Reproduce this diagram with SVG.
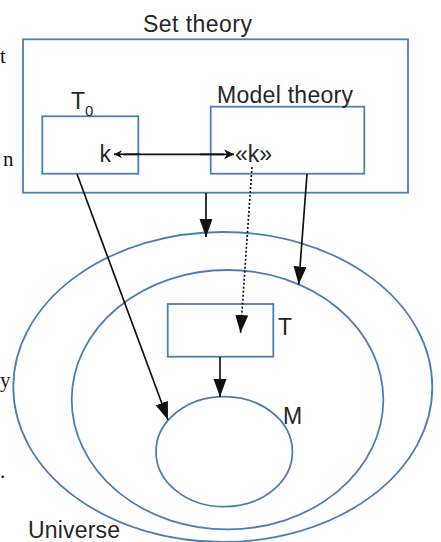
<svg xmlns="http://www.w3.org/2000/svg" width="441" height="542" viewBox="0 0 441 542">
<style>
.box{fill:none;stroke:#4a7ebb;stroke-width:1.8}
.lbl{font-family:"Liberation Sans",Arial,sans-serif;font-size:23px;fill:#262626}
.frag{font-family:"Liberation Serif","Times New Roman",serif;font-size:21px;fill:#111}
.arr{fill:none;stroke:#111;stroke-width:1.7}
</style>
<defs>
<marker id="tri" markerUnits="userSpaceOnUse" markerWidth="20" markerHeight="14" refX="18" refY="6.5" orient="auto">
<path d="M0,0 L18,6.5 L0,13 z" fill="#111"/>
</marker>
<marker id="barbL" markerUnits="userSpaceOnUse" markerWidth="10" markerHeight="9" refX="8" refY="4" orient="auto">
<path d="M0,0 L8,4 L0,8 L2.5,4 z" fill="#111"/>
</marker>
<marker id="barbR" markerUnits="userSpaceOnUse" markerWidth="12" markerHeight="11" refX="10" refY="5" orient="auto">
<path d="M0,0 L10,5 L0,10 L3,5 z" fill="#111"/>
</marker>
</defs>
<rect width="441" height="542" fill="#fff"/>

<g id="fragments">
<text class="frag" x="0" y="63">t</text>
<text class="frag" x="3" y="166">n</text>
<text class="frag" x="0" y="387">y</text>
<text class="frag" x="0" y="478">.</text>
</g>

<g id="universe">
<ellipse class="box" cx="222.8" cy="387" rx="209.5" ry="155"/>
<text class="lbl" x="28" y="538" textLength="92">Universe</text>
</g>
<g id="middle">
<ellipse class="box" cx="227.5" cy="399.7" rx="155.8" ry="129.7"/>
</g>
<g id="M">
<ellipse class="box" cx="224.2" cy="451.7" rx="68.2" ry="55"/>
<text class="lbl" x="283" y="423.5">M</text>
</g>
<g id="T">
<rect class="box" x="167.7" y="304" width="105.6" height="52.7"/>
<text class="lbl" x="278" y="335">T</text>
</g>
<g id="settheory">
<rect class="box" x="23" y="39.3" width="385" height="153.4"/>
<text class="lbl" x="143" y="32.3" textLength="109">Set theory</text>
</g>
<g id="T0">
<rect class="box" x="42.3" y="116.3" width="96" height="57.4"/>
<text class="lbl" x="71" y="109.3">T<tspan font-size="15" dy="7">0</tspan></text>
<text class="lbl" x="99.5" y="162">k</text>
</g>
<g id="modeltheory">
<rect class="box" x="210.7" y="106.7" width="153.6" height="67"/>
<text class="lbl" x="217" y="102.7" textLength="136">Model theory</text>
<text class="lbl" x="235" y="162" textLength="37">«k»</text>
</g>

<g id="connectors">
<line class="arr" x1="124" y1="154.3" x2="224" y2="154.3"/>
<line class="arr" x1="200" y1="154.3" x2="234" y2="154.3" marker-end="url(#barbR)"/>
<line class="arr" x1="140" y1="154.3" x2="114" y2="154.3" marker-end="url(#barbL)"/>
<path class="arr" d="M252,167 L240.5,333" stroke-dasharray="2,2" marker-end="url(#tri)"/>
<line class="arr" x1="206" y1="193" x2="206" y2="237" marker-end="url(#tri)"/>
<line class="arr" x1="307" y1="174" x2="298.7" y2="284.5" marker-end="url(#tri)"/>
<line class="arr" x1="77" y1="174" x2="168" y2="420" marker-end="url(#tri)"/>
<line class="arr" x1="220" y1="357" x2="220" y2="397" marker-end="url(#tri)"/>
</g>
</svg>
